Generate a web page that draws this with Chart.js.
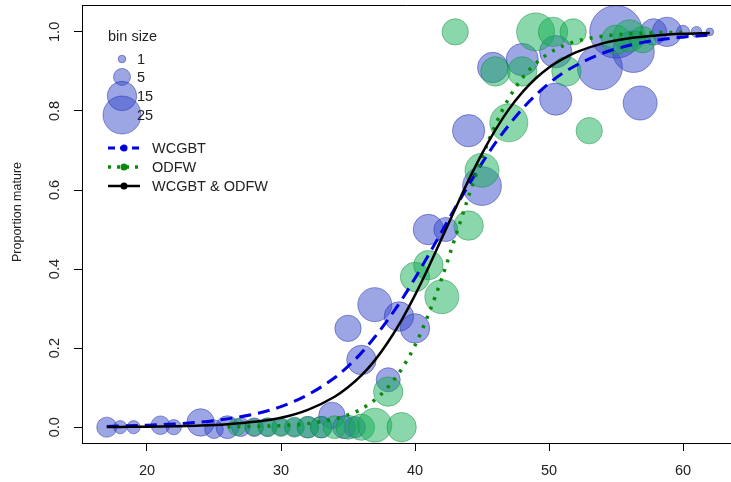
<!DOCTYPE html>
<html><head><meta charset="utf-8">
<script src="https://cdn.jsdelivr.net/npm/chart.js@4"></script>
<style>html,body{margin:0;padding:0;background:#fff}</style>
</head><body>
<canvas id="c" width="731" height="482"></canvas>
<script>
// ---- data ----
const xTicks = [20, 30, 40, 50, 60];
const yTicks = [0, 0.2, 0.4, 0.6, 0.8, 1.0];

// WCGBT observed proportions (length bin, proportion mature, bin size)
const wcgbtX = [17, 18, 19, 21, 22, 24, 25, 26, 27, 28, 29, 30, 31, 32, 33, 33.8, 34.7, 35.5,
                35, 36, 37, 38, 38.8, 40, 41, 42.3, 44, 45, 45.8, 48, 50.5, 50.5, 53.8, 55, 56.3, 56.8, 57.8, 58.8, 60, 61, 62];
const wcgbtY = [0, 0, 0, 0.005, 0, 0.012, -0.005, 0, 0, 0, 0, 0, 0, 0, 0, 0.03, 0, 0,
                0.25, 0.17, 0.31, 0.12, 0.28, 0.25, 0.5, 0.5, 0.75, 0.61, 0.91, 0.93, 0.95, 0.83, 0.91, 1.0, 0.95, 0.82, 1.0, 1.0, 1.0, 1.0, 1.0];
const wcgbtN = [7, 3, 3, 6, 4, 13, 6, 9, 6, 6, 6, 5, 6, 8, 8, 12, 9, 8,
                12, 15, 20, 10, 15, 15, 16, 10, 18, 26, 16, 18, 18, 18, 35, 48, 30, 20, 12, 15, 3, 2, 1];

// ODFW observed proportions
const odfwX = [26.7, 28, 29, 30, 31, 32, 33, 34, 35, 36, 37, 39,
               38, 40, 41, 42, 44, 45, 47, 46, 48, 43, 49, 50.3, 51.8, 51.3, 53, 55, 56, 57];
const odfwY = [0, 0, 0, 0, 0, 0, 0, 0, 0, 0, 0.005, 0,
               0.09, 0.38, 0.41, 0.33, 0.51, 0.65, 0.77, 0.9, 0.9, 1.0, 1.0, 1.0, 1.0, 0.9, 0.75, 0.98, 0.99, 0.98];
const odfwN = [5, 5, 6, 6, 7, 8, 8, 9, 10, 12, 20, 15,
               15, 15, 15, 20, 15, 20, 25, 15, 15, 12, 25, 15, 12, 15, 12, 15, 18, 12];

// fitted maturity curves
const fitX = [17, 18, 20, 22, 24, 26, 28, 30, 32, 34, 35, 36, 37, 38, 39, 40, 41, 42, 43, 44, 45, 46, 47, 48, 49, 50, 51, 52, 54, 56, 58, 60, 62];
const wcgbtFit = [0.002, 0.003, 0.005, 0.008, 0.013, 0.021, 0.033, 0.052, 0.082, 0.125, 0.154, 0.188, 0.228, 0.273, 0.322, 0.377, 0.435, 0.495, 0.555, 0.612, 0.668, 0.719, 0.764, 0.805, 0.840, 0.870, 0.895, 0.915, 0.946, 0.966, 0.979, 0.987, 0.992];
const combinedFit = [0.0005, 0.0007, 0.0012, 0.0023, 0.004, 0.0075, 0.0135, 0.024, 0.044, 0.077, 0.101, 0.131, 0.169, 0.216, 0.271, 0.334, 0.404, 0.478, 0.552, 0.625, 0.692, 0.752, 0.804, 0.847, 0.882, 0.910, 0.931, 0.948, 0.971, 0.984, 0.991, 0.995, 0.997];
const odfwFitX = [26, 28, 30, 32, 34, 35, 36, 37, 38, 39, 40, 41, 42, 43, 44, 45, 46, 47, 48, 49, 50, 51, 52, 54, 56, 58, 60];
const odfwFit = [0.001, 0.002, 0.004, 0.009, 0.021, 0.031, 0.046, 0.069, 0.102, 0.147, 0.207, 0.285, 0.377, 0.48, 0.584, 0.681, 0.765, 0.832, 0.883, 0.920, 0.946, 0.964, 0.976, 0.989, 0.995, 0.998, 0.999];

const legendSizes = [1, 5, 15, 25];
const lineLabels = ['WCGBT', 'ODFW', 'WCGBT & ODFW'];

// ---- styling / construction ----
const FONT = '"Liberation Sans", Arial, sans-serif';
const BLUE_FILL = 'rgba(50,70,200,0.48)', BLUE_EDGE = 'rgba(40,50,170,0.5)';
const GREEN_FILL = 'rgba(20,175,85,0.5)', GREEN_EDGE = 'rgba(15,140,60,0.45)';
const rad = n => 3.8 * Math.sqrt(n);

const bubbles = (xs, ys, ns) => xs.map((x, i) => ({x: x, y: ys[i], r: rad(ns[i])}));
const pts = (xs, ys) => xs.map((x, i) => ({x: x, y: ys[i]}));

const deco = {
  id: 'deco',
  afterDraw(chart) {
    const ctx = chart.ctx, a = chart.chartArea, ys = chart.scales.y;
    ctx.save();
    ctx.strokeStyle = '#000'; ctx.lineWidth = 1;
    ctx.beginPath(); ctx.moveTo(a.left, a.top + 0.5); ctx.lineTo(a.right, a.top + 0.5); ctx.stroke();
    // y tick labels (rotated like R)
    ctx.fillStyle = '#222';
    ctx.font = '14.5px ' + FONT;
    ctx.textAlign = 'center'; ctx.textBaseline = 'middle';
    yTicks.forEach(v => {
      const py = ys.getPixelForValue(v);
      ctx.save(); ctx.translate(55, py); ctx.rotate(-Math.PI / 2); ctx.fillText(v.toFixed(1), 0, 0); ctx.restore();
    });
    // axis title
    ctx.font = '12.5px ' + FONT;
    ctx.save(); ctx.translate(18, 212); ctx.rotate(-Math.PI / 2); ctx.fillText('Proportion mature', 0, 0); ctx.restore();
    // size legend
    ctx.textAlign = 'left';
    ctx.font = '14.5px ' + FONT;
    ctx.fillText('bin size', 108, 37);
    const ly = [59, 77, 96, 115];
    legendSizes.forEach((n, i) => {
      ctx.beginPath(); ctx.arc(122, ly[i], rad(n), 0, Math.PI * 2);
      ctx.fillStyle = BLUE_FILL; ctx.fill();
      ctx.strokeStyle = BLUE_EDGE; ctx.lineWidth = 1; ctx.stroke();
    });
    ctx.fillStyle = '#222';
    legendSizes.forEach((n, i) => ctx.fillText(String(n), 137, ly[i] + 1));
    // line legend
    const rows = [
      {y: 148, c: '#0000e0', dash: [7, 5], w: 3},
      {y: 167, c: '#0a8a0a', dash: [3, 6], w: 3.5},
      {y: 186, c: '#000', dash: [], w: 2.5}
    ];
    rows.forEach((r, i) => {
      ctx.strokeStyle = r.c; ctx.lineWidth = r.w; ctx.setLineDash(r.dash);
      ctx.beginPath(); ctx.moveTo(108, r.y); ctx.lineTo(140, r.y); ctx.stroke();
      ctx.setLineDash([]);
      ctx.fillStyle = r.c; ctx.beginPath(); ctx.arc(124, r.y, 3.5, 0, Math.PI * 2); ctx.fill();
      ctx.fillStyle = '#222'; ctx.fillText(lineLabels[i], 152, r.y + 1);
    });
    ctx.restore();
  }
};

new Chart(document.getElementById('c'), {
  type: 'bubble',
  data: {
    datasets: [
      {type: 'line', label: 'WCGBT & ODFW', data: pts(fitX, combinedFit), borderColor: '#000', borderWidth: 2.5,
       pointRadius: 0, fill: false, cubicInterpolationMode: 'monotone', order: 1},
      {type: 'line', label: 'ODFW', data: pts(odfwFitX, odfwFit), borderColor: '#0a8a0a', borderWidth: 3.5,
       borderDash: [3, 7], pointRadius: 0, fill: false, cubicInterpolationMode: 'monotone', order: 2},
      {type: 'line', label: 'WCGBT', data: pts(fitX, wcgbtFit), borderColor: '#0000e0', borderWidth: 3,
       borderDash: [12, 7], pointRadius: 0, fill: false, cubicInterpolationMode: 'monotone', order: 3},
      {label: 'ODFW bins', data: bubbles(odfwX, odfwY, odfwN), backgroundColor: GREEN_FILL,
       borderColor: GREEN_EDGE, borderWidth: 1, order: 4},
      {label: 'WCGBT bins', data: bubbles(wcgbtX, wcgbtY, wcgbtN), backgroundColor: BLUE_FILL,
       borderColor: BLUE_EDGE, borderWidth: 1, order: 5}
    ]
  },
  options: {
    responsive: false,
    animation: false,
    layout: {autoPadding: false, padding: {top: 5, right: 0, left: 0, bottom: 0}},
    plugins: {legend: {display: false}, tooltip: {enabled: false}},
    scales: {
      x: {
        type: 'linear', min: 15.15, max: 63.58,
        afterBuildTicks: s => { s.ticks = xTicks.map(v => ({value: v})); },
        afterFit: s => { s.height = 39; },
        grid: {drawOnChartArea: false, tickLength: 8, color: '#000'},
        border: {display: true, color: '#000', width: 1},
        ticks: {color: '#222', font: {size: 14.5, family: FONT}, padding: 11, maxRotation: 0,
                callback: v => String(v)}
      },
      y: {
        type: 'linear', min: -0.04, max: 1.068,
        afterBuildTicks: s => { s.ticks = yTicks.map(v => ({value: v})); },
        afterFit: s => { s.width = 82; },
        grid: {drawOnChartArea: false, tickLength: 8, color: '#000'},
        border: {display: true, color: '#000', width: 1},
        ticks: {display: false}
      }
    }
  },
  plugins: [deco]
});
</script>
</body></html>
